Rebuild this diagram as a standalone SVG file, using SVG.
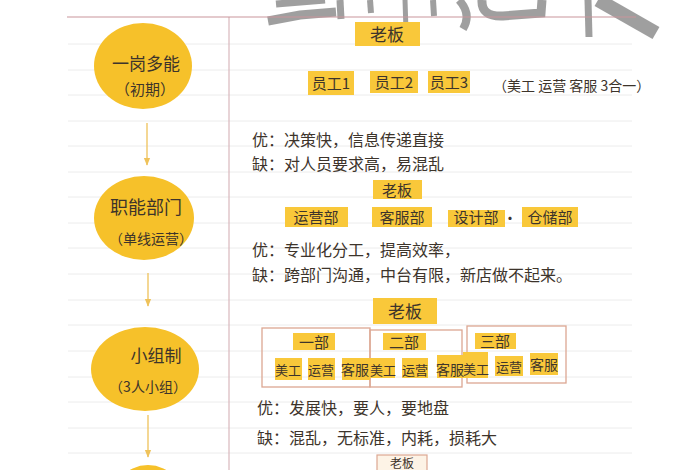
<svg xmlns="http://www.w3.org/2000/svg" width="700" height="470" viewBox="0 0 700 470">
<defs>
<style>
.rule{stroke:#ececec;stroke-width:1}
.t{font-family:"Noto Sans CJK SC","Noto Sans",sans-serif;fill:#3d342b}
.n{font-size:15px}
.lbl{fill:#f9c83a}
.grp{fill:none;stroke:#dca792;stroke-width:1.3}
.ell{fill:#f6c12a}
.wm{stroke:#8e8e8e;stroke-opacity:0.85;fill:none;stroke-linecap:butt}
.arr{stroke:#efc25a;stroke-width:1.3}
</style>
<marker id="ah" viewBox="0 0 10 10" refX="9" refY="5" markerWidth="8" markerHeight="8" orient="auto" markerUnits="userSpaceOnUse">
<path d="M0,1 L10,5 L0,9 z" fill="#efc25a"/>
</marker>
</defs>
<rect width="700" height="470" fill="#ffffff"/>
<g id="paper">
<line class="rule" x1="68" y1="44" x2="632" y2="44"/>
<line class="rule" x1="68" y1="70" x2="632" y2="70"/>
<line class="rule" x1="68" y1="95" x2="632" y2="95"/>
<line class="rule" x1="68" y1="121" x2="632" y2="121"/>
<line class="rule" x1="68" y1="146" x2="632" y2="146"/>
<line class="rule" x1="68" y1="172" x2="632" y2="172"/>
<line class="rule" x1="68" y1="197" x2="632" y2="197"/>
<line class="rule" x1="68" y1="223" x2="632" y2="223"/>
<line class="rule" x1="68" y1="248" x2="632" y2="248"/>
<line class="rule" x1="68" y1="274" x2="632" y2="274"/>
<line class="rule" x1="68" y1="300" x2="632" y2="300"/>
<line class="rule" x1="68" y1="325" x2="632" y2="325"/>
<line class="rule" x1="68" y1="351" x2="632" y2="351"/>
<line class="rule" x1="68" y1="377" x2="632" y2="377"/>
<line class="rule" x1="68" y1="402" x2="632" y2="402"/>
<line class="rule" x1="68" y1="428" x2="632" y2="428"/>
<line class="rule" x1="68" y1="453" x2="632" y2="453"/>
<line x1="229" y1="17" x2="229" y2="470" stroke="#d9b8bc" stroke-width="1.2"/>
</g>
<g id="watermark">
<path class="wm" stroke-width="9" d="M268,21 L300,15 L336,12"/>
<path class="wm" stroke-width="7" d="M276,4 L325,0"/>
<path class="wm" stroke-width="7" d="M340,0 L341,19"/>
<path class="wm" stroke-width="6" d="M370,0 L371,13"/>
<path class="wm" stroke-width="5" d="M405,0 L406,31"/>
<path class="wm" stroke-width="6" d="M433,0 L434,16"/>
<path class="wm" stroke-width="8" d="M459,0 Q472,14 463,29"/>
<path class="wm" stroke-width="9" d="M482,0 Q481,17 503,16 L541,13 L542,0"/>
<path class="wm" stroke-width="7" d="M588,0 L589,37"/>
<path class="wm" stroke-width="14" d="M598,0 L656,33"/>
<line x1="67" y1="17" x2="636" y2="17" stroke="#c9959b" stroke-width="1.2"/>
</g>
<g id="connectors">
<line class="arr" x1="147" y1="123" x2="147" y2="165" marker-end="url(#ah)"/>
<line class="arr" x1="148" y1="273" x2="148" y2="306" marker-end="url(#ah)"/>
<line class="arr" x1="148" y1="415" x2="148" y2="457" marker-end="url(#ah)"/>
</g>
<g id="stage1">
<ellipse class="ell" cx="143" cy="66" rx="49" ry="43"/>
<text class="t" x="146" y="70" font-size="17" text-anchor="middle">一岗多能</text>
<text class="t" x="145" y="95" font-size="15" text-anchor="middle">（初期）</text>
</g>
<g id="stage2">
<ellipse class="ell" cx="144" cy="218" rx="50" ry="42"/>
<text class="t" x="146" y="214" font-size="18" text-anchor="middle">职能部门</text>
<text class="t" x="151" y="244" font-size="14" text-anchor="middle">（单线运营）</text>
</g>
<g id="stage3">
<ellipse class="ell" cx="145" cy="369" rx="54" ry="42"/>
<text class="t" x="156" y="362" font-size="17" text-anchor="middle">小组制</text>
<text class="t" x="148" y="392" font-size="14" text-anchor="middle">（3人小组）</text>
</g>
<g id="stage4">
<ellipse class="ell" cx="148" cy="510" rx="40" ry="45"/>
</g>
<g id="chart1">
<rect class="lbl" x="355" y="22" width="65" height="24"/>
<text class="t" x="387" y="41" font-size="17" text-anchor="middle">老板</text>
<rect class="lbl" x="308" y="71" width="46" height="24"/>
<text class="t n" x="331" y="89" text-anchor="middle">员工1</text>
<rect class="lbl" x="370" y="71" width="48" height="22"/>
<text class="t n" x="394" y="88" text-anchor="middle">员工2</text>
<rect class="lbl" x="428" y="71" width="42" height="22"/>
<text class="t n" x="449" y="88" text-anchor="middle">员工3</text>
<text class="t" x="493" y="91" font-size="14" fill="#555">（美工 运营 客服 3合一）</text>
<text class="t" x="252" y="146" font-size="16">优：决策快，信息传递直接</text>
<text class="t" x="252" y="170" font-size="16">缺：对人员要求高，易混乱</text>
</g>
<g id="chart2">
<rect class="lbl" x="373" y="180" width="49" height="19"/>
<text class="t" x="397" y="196" font-size="15" text-anchor="middle">老板</text>
<rect class="lbl" x="285" y="207" width="63" height="20"/>
<text class="t n" x="316" y="223" text-anchor="middle">运营部</text>
<rect class="lbl" x="372" y="207" width="60" height="20"/>
<text class="t n" x="402" y="223" text-anchor="middle">客服部</text>
<rect class="lbl" x="448" y="210" width="57" height="17"/>
<text class="t n" x="476" y="223" text-anchor="middle">设计部</text>
<text class="t n" x="510" y="224" text-anchor="middle">·</text>
<rect class="lbl" x="522" y="207" width="56" height="20"/>
<text class="t n" x="550" y="223" text-anchor="middle">仓储部</text>
<text class="t" x="252" y="256" font-size="16">优：专业化分工，提高效率，</text>
<text class="t" x="252" y="281" font-size="16">缺：跨部门沟通，中台有限，新店做不起来。</text>
</g>
<g id="chart3">
<rect class="lbl" x="373" y="298" width="64" height="26"/>
<text class="t" x="405" y="318" font-size="17" text-anchor="middle">老板</text>
<rect class="grp" x="262" y="328" width="108" height="59"/>
<rect class="grp" x="370" y="330" width="92" height="57"/>
<rect class="grp" x="467" y="326" width="99" height="57"/>
<rect class="lbl" x="293" y="333" width="42" height="17"/>
<text class="t n" x="314" y="348" text-anchor="middle">一部</text>
<rect class="lbl" x="383" y="333" width="43" height="17"/>
<text class="t n" x="404" y="348" text-anchor="middle">二部</text>
<rect class="lbl" x="475" y="333" width="41" height="16"/>
<text class="t n" x="495" y="347" text-anchor="middle">三部</text>
<rect class="lbl" x="275" y="358" width="27" height="22"/>
<rect class="lbl" x="308" y="358" width="27" height="22"/>
<rect class="lbl" x="342" y="358" width="28" height="22"/>
<rect class="lbl" x="370" y="358" width="25" height="20"/>
<rect class="lbl" x="402" y="358" width="26" height="20"/>
<rect class="lbl" x="437" y="355" width="26" height="23"/>
<rect class="lbl" x="463" y="352" width="25" height="26"/>
<rect class="lbl" x="495" y="356" width="28" height="20"/>
<rect class="lbl" x="530" y="353" width="28" height="22"/>
<text class="t" x="288" y="375" font-size="13" text-anchor="middle">美工</text>
<text class="t" x="321" y="375" font-size="13" text-anchor="middle">运营</text>
<text class="t" x="355" y="375" font-size="14" text-anchor="middle">客服</text>
<text class="t" x="383" y="375" font-size="13" text-anchor="middle">美工</text>
<text class="t" x="415" y="375" font-size="13" text-anchor="middle">运营</text>
<text class="t" x="450" y="375" font-size="14" text-anchor="middle">客服</text>
<text class="t" x="476" y="374" font-size="13" text-anchor="middle">美工</text>
<text class="t" x="509" y="372" font-size="13" text-anchor="middle">运营</text>
<text class="t" x="544" y="370" font-size="14" text-anchor="middle">客服</text>
<text class="t" x="257" y="414" font-size="16">优：发展快，要人，要地盘</text>
<text class="t" x="257" y="444" font-size="16">缺：混乱，无标准，内耗，损耗大</text>
</g>
<g id="chart4">
<rect x="377" y="455" width="50" height="16" fill="#fdf3e6" stroke="#dca792" stroke-width="1.2"/>
<text class="t" x="402" y="468" font-size="12" text-anchor="middle">老板</text>
</g>
</svg>
